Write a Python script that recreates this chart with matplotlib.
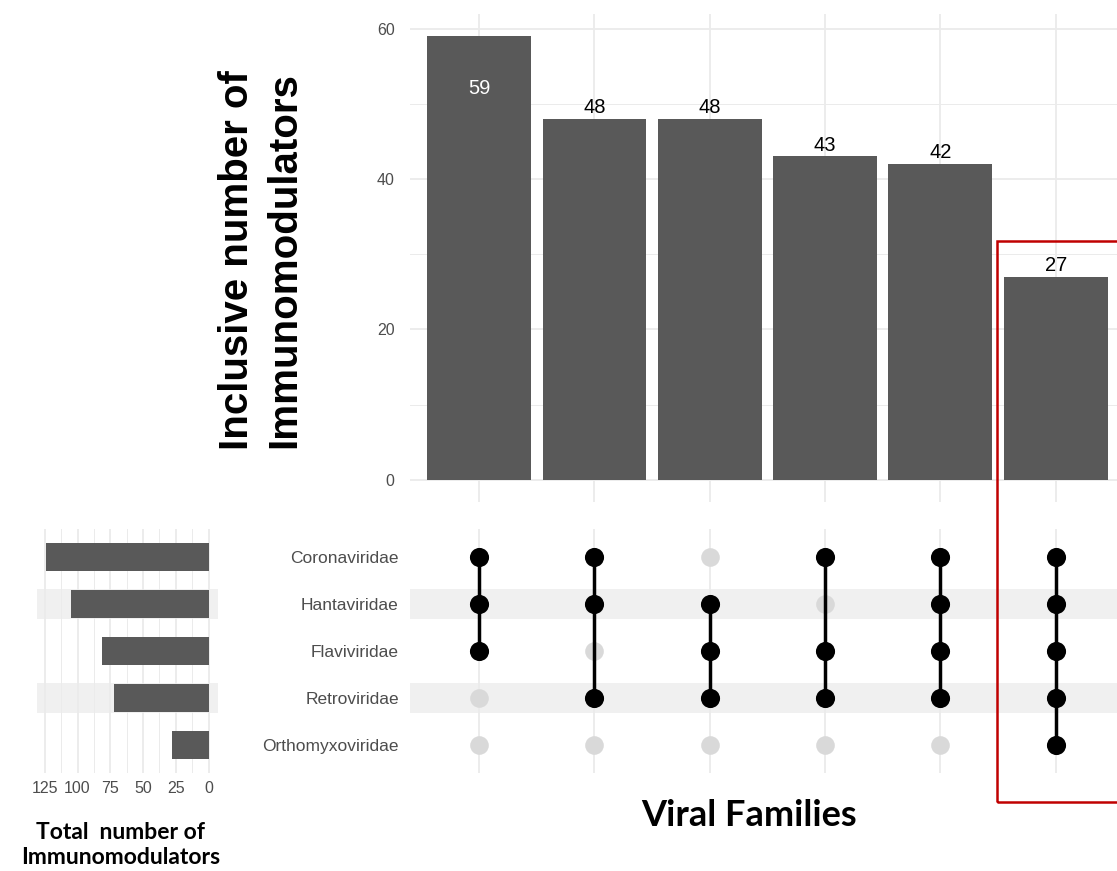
import numpy as np
import matplotlib
matplotlib.use('Agg')
from matplotlib import pyplot as plt
from matplotlib.patches import Rectangle

families = ['Coronaviridae', 'Hantaviridae', 'Flaviviridae', 'Retroviridae', 'Orthomyxoviridae']
set_sizes = [124, 105, 81, 72, 28]
inter_counts = [59, 48, 48, 43, 42, 27]
# which families are in each column (index into families)
members = [
    [0, 1, 2],
    [0, 1, 3],
    [1, 2, 3],
    [0, 2, 3],
    [0, 1, 2, 3],
    [0, 1, 2, 3, 4],
]
size_ticks = [0, 25, 50, 75, 100, 125]
count_ticks = [0, 20, 40, 60]

bar_col = '#595959'
grid_col = '#ebebeb'
tick_col = '#4d4d4d'
stripe_col = '#f0f0f0'

fig = plt.figure(figsize=(11.17, 8.71), dpi=100)

ncol = len(inter_counts)
nrow = len(families)
cols = np.arange(ncol)
rows = np.arange(nrow)

# top intersection bars
ax_top = fig.add_axes([0.367, 0.4237, 0.64, 0.5603])
ax_top.set_xlim(-0.6, ncol - 0.4)
ax_top.set_ylim(-2.95, 61.95)
for v in [10, 30, 50]:
    ax_top.axhline(v, color=grid_col, lw=0.7, zorder=0)
for v in count_ticks:
    ax_top.axhline(v, color=grid_col, lw=1.3, zorder=0)
for c in cols:
    ax_top.axvline(c, color=grid_col, lw=1.3, zorder=0)
ax_top.bar(cols, inter_counts, width=0.9, color=bar_col, zorder=2)
for c, v in zip(cols, inter_counts):
    if v == max(inter_counts):
        ax_top.text(c, v - 7, str(v), ha='center', va='center', color='white',
                    fontsize=14.5, family='Liberation Sans', zorder=3)
    else:
        ax_top.text(c, v + 1.5, str(v), ha='center', va='center', color='black',
                    fontsize=14.5, family='Liberation Sans', zorder=3)
ax_top.set_yticks(count_ticks)
ax_top.set_yticklabels([str(t) for t in count_ticks], color=tick_col,
                       fontsize=11.5, family='Liberation Sans')
ax_top.set_xticks([])
ax_top.tick_params(axis='y', length=0, pad=11)
for s in ax_top.spines.values():
    s.set_visible(False)

# matrix panel
ax_m = fig.add_axes([0.367, 0.1125, 0.64, 0.2801])
ax_m.set_xlim(-0.6, ncol - 0.4)
ax_m.set_ylim(nrow - 0.4, -0.6)
for r in rows:
    if r % 2 == 1:
        ax_m.axhspan(r - 0.32, r + 0.32, color=stripe_col, zorder=0, lw=0)
for c in cols:
    ax_m.axvline(c, color=grid_col, lw=1.3, zorder=0.5)
for c in cols:
    act = members[c]
    inactive = [r for r in rows if r not in act]
    ax_m.scatter([c] * len(inactive), inactive, s=180, color='#d9d9d9', zorder=2, lw=0)
    ax_m.plot([c, c], [min(act), max(act)], color='black', lw=2.5, zorder=3)
    ax_m.scatter([c] * len(act), act, s=190, color='black', zorder=4, lw=0)
ax_m.set_yticks(rows)
ax_m.set_yticklabels(families, color=tick_col, fontsize=12.5, family='Liberation Sans')
ax_m.set_xticks([])
ax_m.tick_params(axis='y', length=0, pad=8)
for s in ax_m.spines.values():
    s.set_visible(False)

# set size panel
ax_s = fig.add_axes([0.033, 0.1125, 0.162, 0.2801])
ax_s.set_xlim(131, -7)
ax_s.set_ylim(nrow - 0.4, -0.6)
for r in rows:
    if r % 2 == 1:
        ax_s.axhspan(r - 0.32, r + 0.32, color=stripe_col, zorder=0, lw=0)
for t in np.arange(12.5, 125, 25):
    ax_s.axvline(t, color=grid_col, lw=0.7, zorder=0.5)
for t in size_ticks:
    ax_s.axvline(t, color=grid_col, lw=1.3, zorder=0.5)
ax_s.barh(rows, set_sizes, height=0.6, color=bar_col, zorder=2)
ax_s.set_xticks(size_ticks)
ax_s.set_xticklabels([str(t) for t in size_ticks], color=tick_col,
                     fontsize=11.5, family='Liberation Sans')
ax_s.set_yticks([])
ax_s.tick_params(axis='x', length=0, pad=6)
for s in ax_s.spines.values():
    s.set_visible(False)

# titles
fig.text(0.233, 0.7015, 'Inclusive number of\nImmunomodulators', rotation=90,
         ha='center', va='center', fontsize=29, fontweight='bold',
         family='Liberation Sans', linespacing=1.3)
fig.text(0.671, 0.064, 'Viral Families', ha='center', va='center',
         fontsize=26, fontweight='bold', family='Lato')
fig.text(0.108, 0.030, 'Total  number of\nImmunomodulators', ha='center', va='center',
         fontsize=16.5, fontweight='bold', family='Lato', linespacing=1.25)

# red box around last column
fig.patches.append(Rectangle((0.8926, 0.0792), 0.2, 0.6441, transform=fig.transFigure,
                             fill=False, edgecolor='#c00000', lw=1.8, zorder=10))

fig.savefig('out.png', dpi=100)
